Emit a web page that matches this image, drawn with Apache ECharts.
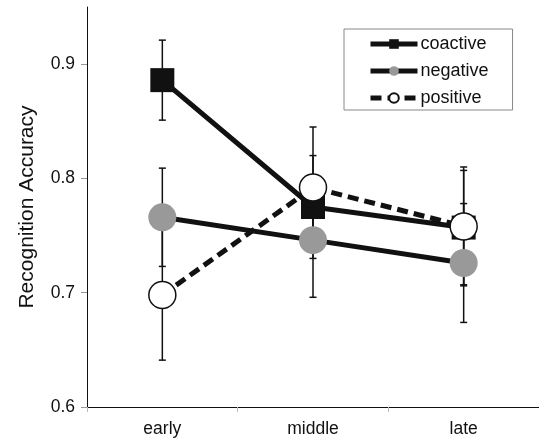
<!DOCTYPE html>
<html>
<head>
<meta charset="utf-8">
<script src="https://cdn.jsdelivr.net/npm/echarts@6/dist/echarts.min.js"></script>
<style>
  html, body { margin: 0; padding: 0; background: #fff; }
  #chart { width: 539px; height: 442px; }
</style>
</head>
<body>
<div id="chart"></div>
<script>
// ---- data ----
var categories = ['early', 'middle', 'late'];
var coactive = [0.886, 0.775, 0.757];
var coactiveErr = [0.035, 0.045, 0.050];
var negative = [0.766, 0.746, 0.726];
var negativeErr = [0.043, 0.050, 0.052];
var positive = [0.698, 0.792, 0.758];
var positiveErr = [0.057, 0.053, 0.052];
var yTicks = [0.6, 0.7, 0.8, 0.9];

function renderRecognition() {
    var dom = document.getElementById('chart');
    var myChart = echarts.init(dom, null, { renderer: 'canvas' });
    var font = 'Liberation Sans, Arial, sans-serif';

    function errData(means, errs) {
        return means.map(function (m, i) {
            return [i, m - errs[i], m + errs[i]];
        });
    }

    // whiskers, drawn under the markers
    function renderErr(params, api) {
        var lo = api.coord([api.value(0), api.value(1)]);
        var hi = api.coord([api.value(0), api.value(2)]);
        var cap = 3.5;
        var st = { stroke: '#111', lineWidth: 1.5 };
        return {
            type: 'group',
            children: [
                { type: 'line', shape: { x1: lo[0], y1: lo[1], x2: hi[0], y2: hi[1] }, style: st },
                { type: 'line', shape: { x1: lo[0] - cap, y1: lo[1], x2: lo[0] + cap, y2: lo[1] }, style: st },
                { type: 'line', shape: { x1: hi[0] - cap, y1: hi[1], x2: hi[0] + cap, y2: hi[1] }, style: st }
            ]
        };
    }

    function errSeries(means, errs) {
        return {
            type: 'custom',
            renderItem: renderErr,
            encode: { x: 0, y: [1, 2] },
            data: errData(means, errs),
            z: 1,
            silent: true
        };
    }

    var option = {
        backgroundColor: '#FFFFFF',
        animation: false,
        grid: {
            left: 87,
            top: 7,
            width: 456,
            height: 400
        },
        legend: {
            data: ['coactive', 'negative', 'positive'],
            orient: 'vertical',
            left: 344,
            top: 29,
            padding: [6, 24, 3, 24],
            itemGap: 9,
            itemWidth: 47,
            itemHeight: 12,
            borderColor: '#888',
            borderWidth: 1,
            lineStyle: { width: 5 },
            textStyle: { fontFamily: font, fontSize: 18, color: '#111', padding: [0, 0, 0, -2] }
        },
        xAxis: {
            type: 'category',
            data: categories,
            axisLine: { lineStyle: { color: '#111', width: 1 } },
            axisTick: { show: true, length: 5, lineStyle: { color: '#bbb' } },
            axisLabel: { fontFamily: font, fontSize: 17.5, color: '#111', margin: 13 }
        },
        yAxis: {
            type: 'value',
            min: 0.6,
            max: 0.95,
            interval: 0.1,
            name: 'Recognition Accuracy',
            nameLocation: 'middle',
            nameGap: 49,
            nameTextStyle: { fontFamily: font, fontSize: 21, color: '#111' },
            splitLine: { show: false },
            axisLine: { show: true, lineStyle: { color: '#111', width: 1 } },
            axisTick: { show: true, length: 6, lineStyle: { color: '#999' }, customValues: yTicks },
            axisLabel: {
                fontFamily: font, fontSize: 17.5, color: '#111', margin: 12,
                customValues: yTicks,
                formatter: function (v) { return v.toFixed(1); }
            }
        },
        series: [
            errSeries(coactive, coactiveErr),
            errSeries(negative, negativeErr),
            errSeries(positive, positiveErr),
            {
                name: 'coactive',
                type: 'line',
                data: coactive,
                z: 3,
                symbol: 'rect',
                symbolSize: 24,
                showAllSymbol: true,
                itemStyle: { color: '#111', borderWidth: 0 },
                lineStyle: { color: '#111', width: 5 }
            },
            {
                name: 'negative',
                type: 'line',
                data: negative,
                z: 3,
                symbol: 'circle',
                symbolSize: 28,
                showAllSymbol: true,
                itemStyle: { color: '#999', borderWidth: 0 },
                lineStyle: { color: '#111', width: 5 }
            },
            {
                name: 'positive',
                type: 'line',
                data: positive,
                z: 3,
                symbol: 'circle',
                symbolSize: 27,
                showAllSymbol: true,
                itemStyle: { color: '#fff', borderColor: '#111', borderWidth: 1.5 },
                lineStyle: { color: '#111', width: 5, type: [11, 6] }
            }
        ]
    };

    if (option && typeof option === 'object') {
        myChart.setOption(option);
    }
}
renderRecognition();
</script>
</body>
</html>
